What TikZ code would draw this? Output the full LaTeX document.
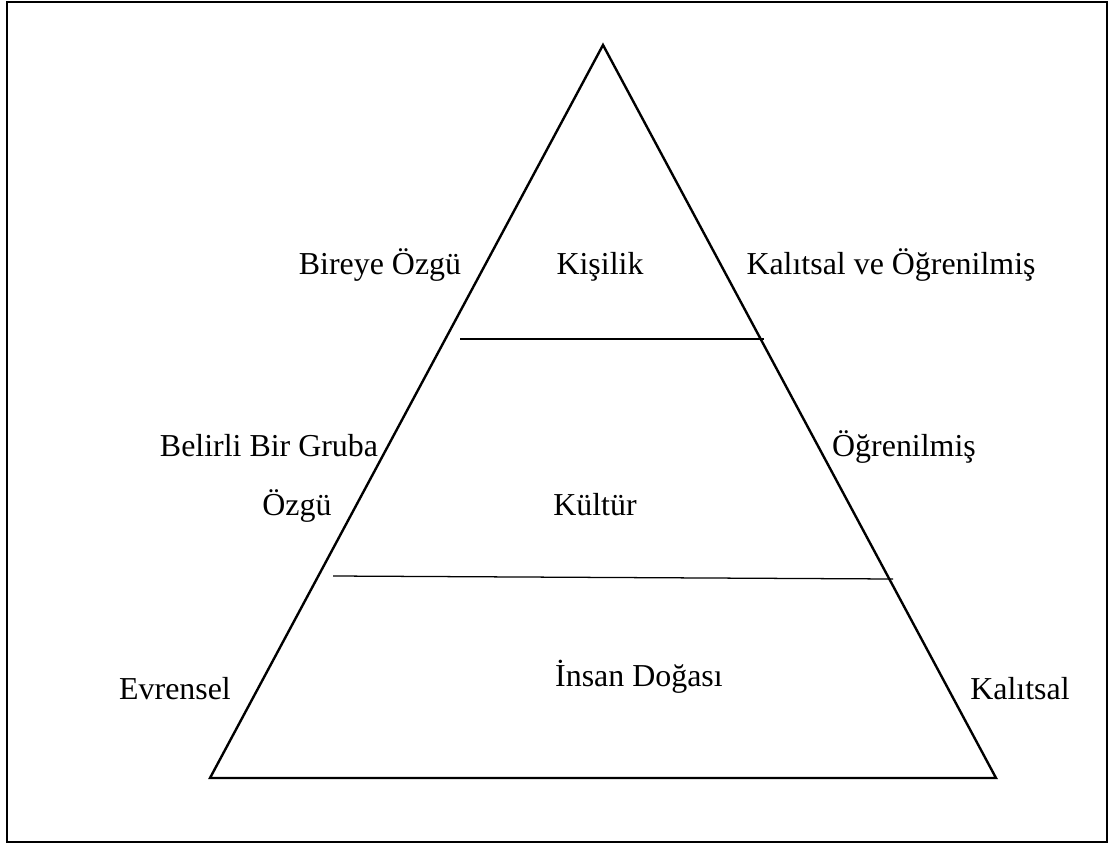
\documentclass[tikz,border=0pt]{standalone}
\usepackage{fontspec}
\setmainfont{Liberation Serif}
\usetikzlibrary{positioning}

\begin{document}
\begin{tikzpicture}[x=0.025cm,y=-0.025cm,
    lbl/.style={font=\fontsize{22.7}{27}\selectfont, inner sep=0pt,
        text height=0.75em, text depth=0.25em}]
    \useasboundingbox (0,0) rectangle (1115,845);
    \draw[line width=1.4pt] (7,2) rectangle (1107,842);

    % pyramid
    \coordinate (apex) at (603,45);
    \coordinate (baseL) at (210,778);
    \coordinate (baseR) at (996,778);
    \draw[line width=1.7pt, line join=miter] (apex) -- (baseL) -- (baseR) -- cycle;

    % levels
    \coordinate (upL) at (460,339);
    \coordinate (upR) at (764,339);
    \coordinate (loL) at (333,576);
    \coordinate (loR) at (893,579);
    \draw[line width=0.9pt] (upL) -- (upR);
    \draw[line width=0.9pt] (loL) -- (loR);

    \node[lbl] (kisilik) at (600,271) {Kişilik};
    \node[lbl] (kultur) at (595,512) {Kültür};
    \node[lbl] (doga) at (639,683) {İnsan Doğası};

    \node[lbl] (bireye) at (380,271) {Bireye Özgü};
    \node[lbl] (grup) at (269,453) {Belirli Bir Gruba};
    \node[lbl] (grupb) at (297,512) {Özgü};
    \node[lbl] (evren) at (175,696) {Evrensel};

    \node[lbl] (kalog) at (891,271) {Kalıtsal ve Öğrenilmiş};
    \node[lbl] (ogren) at (904,453) {Öğrenilmiş};
    \node[lbl] (kalit) at (1020,696) {Kalıtsal};
\end{tikzpicture}
\end{document}
